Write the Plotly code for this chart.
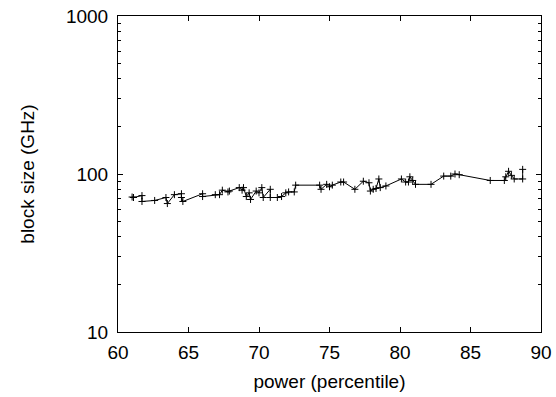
import plotly.graph_objects as go

power = [61.0, 61.1, 61.7, 61.7, 62.6, 63.4, 63.5, 64.0, 64.5, 64.5, 64.6, 66.0, 66.0,
         66.9, 67.2, 67.4, 67.8, 67.9, 68.6, 68.8, 68.9, 69.1, 69.3, 69.4, 69.8, 70.0,
         70.2, 70.3, 70.8, 70.8, 71.3, 71.6, 71.9, 72.1, 72.5, 72.6, 74.3, 74.4, 74.8,
         75.0, 75.2, 75.8, 76.0, 76.8, 77.4, 77.8, 77.9, 78.1, 78.3, 78.5, 78.6, 79.0,
         80.1, 80.4, 80.6, 80.7, 80.9, 81.1, 82.2, 83.1, 83.6, 83.9, 84.2, 86.4, 87.4,
         87.5, 87.7, 87.9, 88.1, 88.7, 88.7]
block_size = [71.5, 71, 73, 67, 68, 71, 65, 74, 75, 71, 67, 75, 72,
              74, 74, 79, 77, 78, 82, 79, 82, 72, 76, 69, 78, 76,
              82, 71, 80, 71, 71, 72, 76, 77, 77, 85, 85, 80, 86,
              83, 85, 89, 89, 80, 90, 88, 78, 80, 81, 93, 82, 84,
              93, 89, 89, 96, 91, 86, 86, 97, 97, 100, 99, 91, 91,
              96, 104, 98, 93, 93, 107]

x_ticks = [60, 65, 70, 75, 80, 85, 90]
y_ticks = [10, 100, 1000]
y_minor = [v * m for v in (10, 100) for m in range(2, 10)]

fig = go.Figure(go.Scatter(
    x=power, y=block_size, mode="lines+markers",
    line=dict(color="black", width=1),
    marker=dict(symbol="cross-thin", size=5, line=dict(color="black", width=1)),
    showlegend=False,
))

font = dict(family="Liberation Sans, Arial, sans-serif", size=19, color="black")
fig.update_layout(
    width=556, height=397,
    margin=dict(l=118, r=15, t=16, b=65),
    paper_bgcolor="white", plot_bgcolor="white",
    font=font,
    xaxis=dict(
        range=[60, 90], tickvals=x_ticks, ticks="inside", ticklen=5,
        tickcolor="black", showline=True, linecolor="black", linewidth=1,
        mirror="ticks", showgrid=False, zeroline=False, automargin=False,
        ticklabeloverflow="allow", ticklabelstandoff=3,
        title=dict(text="power (percentile)", font=dict(size=19), standoff=12),
    ),
    yaxis=dict(
        type="log", range=[1, 3], tickvals=y_ticks, ticktext=[str(v) for v in y_ticks],
        ticks="inside", ticklen=5, tickcolor="black", showline=True,
        linecolor="black", linewidth=1, mirror="ticks", showgrid=False,
        zeroline=False, automargin=False, ticklabeloverflow="allow",
        ticklabelstandoff=5,
        minor=dict(tickvals=y_minor, ticks="inside", ticklen=3, tickcolor="black"),
        title=dict(text="block size (GHz)", font=dict(size=19), standoff=26),
    ),
)
fig.write_html("out.html", config={"displayModeBar": False},
               post_script="document.body.style.margin='0';")
